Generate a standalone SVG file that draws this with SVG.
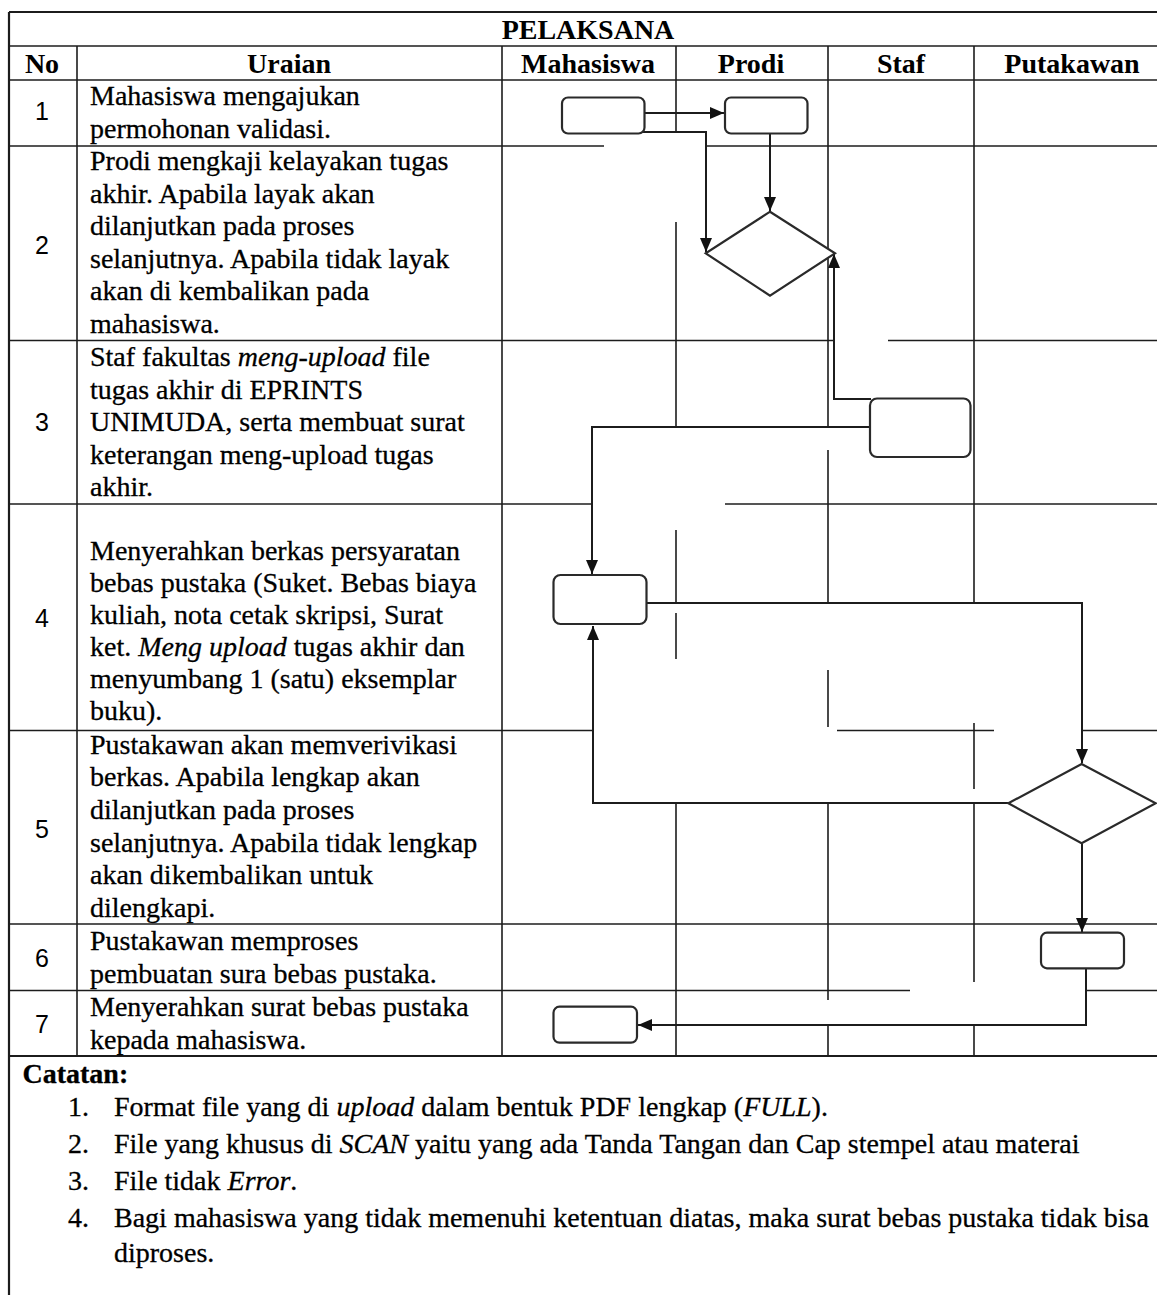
<svg xmlns="http://www.w3.org/2000/svg" width="1157" height="1295" viewBox="0 0 1157 1295">
<style>
.bg{fill:#ffffff}
.g{stroke:#1c1c1c;stroke-width:1.6;fill:none;stroke-linecap:butt}
.gb{stroke:#1c1c1c;stroke-width:2.2;fill:none}
.t{font-family:"Liberation Serif","Times New Roman",serif;font-size:28px;fill:#000;stroke:#000;stroke-width:0.3}
.h{font-family:"Liberation Serif","Times New Roman",serif;font-size:28px;font-weight:bold;fill:#000;text-anchor:middle}
.n{font-family:"Liberation Sans",Arial,sans-serif;font-size:25px;fill:#000;text-anchor:middle}
.i{font-style:italic}
.box{fill:#fff;stroke:#2a2a2a;stroke-width:2.2}
.c{fill:none;stroke:#1c1c1c;stroke-width:2}
</style>
<defs>
<marker id="ah" viewBox="0 0 14 12" refX="14" refY="6" markerWidth="14" markerHeight="12" markerUnits="userSpaceOnUse" orient="auto">
<path d="M0,0 L14,6 L0,12 z" fill="#111"/>
</marker>
</defs>
<rect class="bg" x="0" y="0" width="1157" height="1295"/>

<g id="table">
<line class="gb" x1="9" y1="12" x2="1157" y2="12"/>
<line class="g" x1="9" y1="46" x2="1157" y2="46"/>
<line class="g" x1="9" y1="80" x2="1157" y2="80"/>
<line class="g" x1="9" y1="146" x2="604" y2="146"/>
<line class="g" x1="706" y1="146" x2="1157" y2="146"/>
<line class="g" x1="9" y1="340.5" x2="835" y2="340.5"/>
<line class="g" x1="888" y1="340.5" x2="1157" y2="340.5"/>
<line class="g" x1="9" y1="504" x2="591" y2="504"/>
<line class="g" x1="725" y1="504" x2="1157" y2="504"/>
<line class="g" x1="9" y1="730.5" x2="593" y2="730.5"/>
<line class="g" x1="837" y1="730.5" x2="994" y2="730.5"/>
<line class="g" x1="1083" y1="730.5" x2="1157" y2="730.5"/>
<line class="g" x1="9" y1="924" x2="1157" y2="924"/>
<line class="g" x1="9" y1="990.5" x2="910" y2="990.5"/>
<line class="g" x1="1087" y1="990.5" x2="1157" y2="990.5"/>
<line class="gb" x1="9" y1="1056" x2="1157" y2="1056"/>
<line class="gb" x1="9" y1="12" x2="9" y2="1295"/>
<line class="g" x1="77" y1="46" x2="77" y2="1056"/>
<line class="g" x1="502" y1="46" x2="502" y2="1056"/>
<line class="g" x1="676" y1="46" x2="676" y2="132"/>
<line class="g" x1="676" y1="222" x2="676" y2="427"/>
<line class="g" x1="676" y1="530" x2="676" y2="603"/>
<line class="g" x1="676" y1="613" x2="676" y2="659"/>
<line class="g" x1="676" y1="803" x2="676" y2="1056"/>
<line class="g" x1="828" y1="46" x2="828" y2="427"/>
<line class="g" x1="828" y1="450" x2="828" y2="603"/>
<line class="g" x1="828" y1="670" x2="828" y2="727"/>
<line class="g" x1="828" y1="803" x2="828" y2="1000"/>
<line class="g" x1="828" y1="1025" x2="828" y2="1056"/>
<line class="g" x1="974" y1="46" x2="974" y2="603"/>
<line class="g" x1="974" y1="723" x2="974" y2="789"/>
<line class="g" x1="974" y1="803" x2="974" y2="982"/>
<line class="g" x1="974" y1="1025" x2="974" y2="1056"/>
</g>

<g id="header">
<text class="h" x="588" y="39">PELAKSANA</text>
<text class="h" x="42" y="72.5">No</text>
<text class="h" x="289" y="72.5">Uraian</text>
<text class="h" x="588" y="72.5">Mahasiswa</text>
<text class="h" x="751" y="72.5">Prodi</text>
<text class="h" x="901" y="72.5">Staf</text>
<text class="h" x="1072" y="72.5">Putakawan</text>
</g>

<g id="row1">
<text class="n" x="42" y="120">1</text>
<text class="t" x="90" y="105">Mahasiswa mengajukan</text>
<text class="t" x="90" y="138">permohonan validasi.</text>
</g>
<g id="row2">
<text class="n" x="42" y="254">2</text>
<text class="t" x="90" y="170">Prodi mengkaji kelayakan tugas</text>
<text class="t" x="90" y="202.5">akhir. Apabila layak akan</text>
<text class="t" x="90" y="235">dilanjutkan pada proses</text>
<text class="t" x="90" y="267.5">selanjutnya. Apabila tidak layak</text>
<text class="t" x="90" y="300">akan di kembalikan pada</text>
<text class="t" x="90" y="332.5">mahasiswa.</text>
</g>
<g id="row3">
<text class="n" x="42" y="431">3</text>
<text class="t" x="90" y="366">Staf fakultas <tspan class="i">meng-upload</tspan> file</text>
<text class="t" x="90" y="398.5">tugas akhir di EPRINTS</text>
<text class="t" x="90" y="431">UNIMUDA, serta membuat surat</text>
<text class="t" x="90" y="463.5">keterangan meng-upload tugas</text>
<text class="t" x="90" y="496">akhir.</text>
</g>
<g id="row4">
<text class="n" x="42" y="627">4</text>
<text class="t" x="90" y="560">Menyerahkan berkas persyaratan</text>
<text class="t" x="90" y="592">bebas pustaka (Suket. Bebas biaya</text>
<text class="t" x="90" y="624">kuliah, nota cetak skripsi, Surat</text>
<text class="t" x="90" y="656">ket. <tspan class="i">Meng upload</tspan> tugas akhir dan</text>
<text class="t" x="90" y="688">menyumbang 1 (satu) eksemplar</text>
<text class="t" x="90" y="720">buku).</text>
</g>
<g id="row5">
<text class="n" x="42" y="838">5</text>
<text class="t" x="90" y="753.5">Pustakawan akan memverivikasi</text>
<text class="t" x="90" y="786">berkas. Apabila lengkap akan</text>
<text class="t" x="90" y="819">dilanjutkan pada proses</text>
<text class="t" x="90" y="851.5">selanjutnya. Apabila tidak lengkap</text>
<text class="t" x="90" y="884">akan dikembalikan untuk</text>
<text class="t" x="90" y="916.5">dilengkapi.</text>
</g>
<g id="row6">
<text class="n" x="42" y="967">6</text>
<text class="t" x="90" y="950">Pustakawan memproses</text>
<text class="t" x="90" y="982.5">pembuatan sura bebas pustaka.</text>
</g>
<g id="row7">
<text class="n" x="42" y="1033">7</text>
<text class="t" x="90" y="1016">Menyerahkan surat bebas pustaka</text>
<text class="t" x="90" y="1048.5">kepada mahasiswa.</text>
</g>

<g id="connectors">
<path class="c" d="M644 113 H724" marker-end="url(#ah)"/>
<path class="c" d="M593 132 H706 V252" marker-end="url(#ah)"/>
<path class="c" d="M770 134 V211" marker-end="url(#ah)"/>
<path class="c" d="M871 399 H834 V254" marker-end="url(#ah)"/>
<path class="c" d="M870 427 H592 V574" marker-end="url(#ah)"/>
<path class="c" d="M647 603 H1082 V763" marker-end="url(#ah)"/>
<path class="c" d="M1008 803 H593 V626" marker-end="url(#ah)"/>
<path class="c" d="M1082 844 V932" marker-end="url(#ah)"/>
<path class="c" d="M1086 969 V1025 H638" marker-end="url(#ah)"/>
</g>

<g id="n1-mahasiswa"><rect class="box" x="562" y="97.5" width="82.5" height="36" rx="6"/></g>
<g id="n2-prodi"><rect class="box" x="725" y="97.5" width="82.5" height="36" rx="6"/></g>
<g id="n3-prodi-decision"><polygon class="box" points="770,211.7 835,253.3 770,295.7 705.7,253.3"/></g>
<g id="n4-staf"><rect class="box" x="870" y="398.5" width="100.5" height="58.5" rx="7"/></g>
<g id="n5-mahasiswa"><rect class="box" x="553.5" y="575" width="93" height="49" rx="7"/></g>
<g id="n6-putakawan-decision"><polygon class="box" points="1081.6,764 1155.7,803.3 1081.6,843.3 1008.3,803.3"/></g>
<g id="n7-putakawan"><rect class="box" x="1041" y="932.7" width="83" height="35.6" rx="6"/></g>
<g id="n8-mahasiswa"><rect class="box" x="553.5" y="1006.7" width="83.5" height="36" rx="6"/></g>

<g id="notes">
<text class="t" x="22.5" y="1083" font-weight="bold">Catatan:</text>
<text class="t" x="68" y="1116">1.</text>
<text class="t" x="114" y="1116">Format file yang di <tspan class="i">upload</tspan> dalam bentuk PDF lengkap (<tspan class="i">FULL</tspan>).</text>
<text class="t" x="68" y="1153">2.</text>
<text class="t" x="114" y="1153">File yang khusus di <tspan class="i">SCAN</tspan> yaitu yang ada Tanda Tangan dan Cap stempel atau materai</text>
<text class="t" x="68" y="1190">3.</text>
<text class="t" x="114" y="1190">File tidak <tspan class="i">Error</tspan>.</text>
<text class="t" x="68" y="1227">4.</text>
<text class="t" x="114" y="1227">Bagi mahasiswa yang tidak memenuhi ketentuan diatas, maka surat bebas pustaka tidak bisa</text>
<text class="t" x="114" y="1262">diproses.</text>
</g>
</svg>
